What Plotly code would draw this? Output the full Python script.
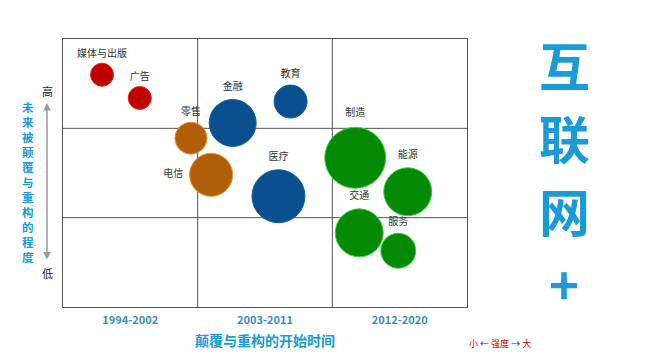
import plotly.graph_objects as go

# ---- data ----
industries = ["媒体与出版", "广告", "零售", "电信", "金融", "教育", "医疗", "制造", "能源", "交通", "服务"]
start_period = [0.29, 0.57, 0.95, 1.10, 1.26, 1.69, 1.60, 2.17, 2.56, 2.20, 2.49]   # x position (0..3)
disruption = [2.60, 2.34, 1.89, 1.48, 2.06, 2.30, 1.24, 1.67, 1.29, 0.83, 0.63]      # y position (0..3)
intensity = [23, 23, 32, 43, 47, 33, 53, 61, 48, 48, 35]                           # bubble diameter
groups = ["媒体", "媒体", "零售", "零售", "金融", "金融", "金融", "制造", "制造", "制造", "制造"]
label_pos = ["top center"] * 11
label_pos[3] = "middle left"

period_labels = ["1994-2002", "2003-2011", "2012-2020"]
legend_sizes = [10, 14, 23]

group_fill = {"媒体": "#C00000", "零售": "#B05E08", "金融": "#0A4F8E", "制造": "#058A05"}
group_edge = {"媒体": "#E02020", "零售": "#E89030", "金融": "#1060A8", "制造": "#40D040"}

FONT = "Noto Sans CJK SC"
BLUE = "#1A9AD6"

fig = go.Figure()
fig.add_trace(go.Scatter(
    x=start_period, y=disruption, mode="markers+text",
    text=industries, textposition=label_pos,
    textfont=dict(family=FONT, size=10, color="#333333"),
    marker=dict(size=intensity, sizemode="diameter",
                color=[group_fill[g] for g in groups],
                line=dict(color=[group_edge[g] for g in groups], width=1),
                opacity=1),
    hoverinfo="text", showlegend=False, cliponaxis=False,
))

# size key (outside plot, drawn in data units)
fig.add_trace(go.Scatter(
    x=[3.083, 3.239, 3.430], y=[-0.20, -0.20, -0.20], mode="markers",
    marker=dict(size=legend_sizes, sizemode="diameter", color="#5AA5E0"),
    showlegend=False, cliponaxis=False, hoverinfo="skip",
))

# grid lines
for v in [1, 2]:
    fig.add_shape(type="line", x0=v, x1=v, y0=0, y1=3, xref="x", yref="y",
                  line=dict(color="#555555", width=1), layer="below")
    fig.add_shape(type="line", x0=0, x1=3, y0=v, y1=v, xref="x", yref="y",
                  line=dict(color="#555555", width=1), layer="below")

OFF = 8  # page body margin
W, H = 650 - OFF, 356 - OFF
L, R, T, B = 63 - OFF, 467 - OFF, 39 - OFF, 307 - OFF

def px(x):
    return (x - OFF - L) / (R - L)

def py(y):
    return (B - (y - OFF)) / (B - T)

def note(x, y, text, **kw):
    d = dict(x=px(x), y=py(y), xref="paper", yref="paper", text=text, showarrow=False,
             xanchor="center", yanchor="middle")
    d.update(kw)
    return d

ann = []
ann.append(note(47, 91, "高", font=dict(family=FONT, size=11, color="#222")))
ann.append(note(47, 273, "低", font=dict(family=FONT, size=11, color="#222")))
ann.append(dict(x=px(47), y=py(103), xref="paper", yref="paper", ax=0, ay=158,
                axref="pixel", ayref="pixel", text="", showarrow=True, arrowhead=2,
                arrowside="end+start", arrowsize=1, arrowwidth=1.5, arrowcolor="#999999",
                standoff=0, startstandoff=0))
ytitle = "未来被颠覆与重构的程度"
ann.append(note(28, 182, "<b>" + "<br>".join(ytitle) + "</b>",
                font=dict(family=FONT, size=11.5, color=BLUE)))
ann.append(note(265, 340, "<b>颠覆与重构的开始时间</b>",
                font=dict(family=FONT, size=14, color=BLUE)))
for ch, yy in zip(["互", "联", "网", "+"], [64, 137, 210, 283]):
    ann.append(note(564, yy, "<b>" + ch + "</b>", font=dict(family=FONT, size=51, color=BLUE)))
ann.append(note(500, 343,
                '<span style="color:#C00000">小</span> <span style="color:#333">←</span> '
                '<span style="color:#C00000">强度</span> <span style="color:#333">→</span> '
                '<span style="color:#C00000">大</span>',
                font=dict(family=FONT, size=9, color="#C00000")))

fig.update_layout(
    width=W, height=H,
    margin=dict(l=L, r=W - R, t=T, b=H - B, pad=0),
    paper_bgcolor="white", plot_bgcolor="white",
    annotations=ann,
    xaxis=dict(range=[0, 3], showgrid=False, zeroline=False,
               tickvals=[0.5, 1.5, 2.5], ticktext=["<b>" + t + "</b>" for t in period_labels],
               tickfont=dict(family=FONT, size=11, color="#3A8CC4"), ticklabelstandoff=3,
               showline=True, linecolor="#555555", linewidth=1, mirror=True, ticks=""),
    yaxis=dict(range=[0, 3], showgrid=False, zeroline=False, showticklabels=False,
               showline=True, linecolor="#555555", linewidth=1, mirror=True, ticks=""),
)

fig.write_html("out.html")
